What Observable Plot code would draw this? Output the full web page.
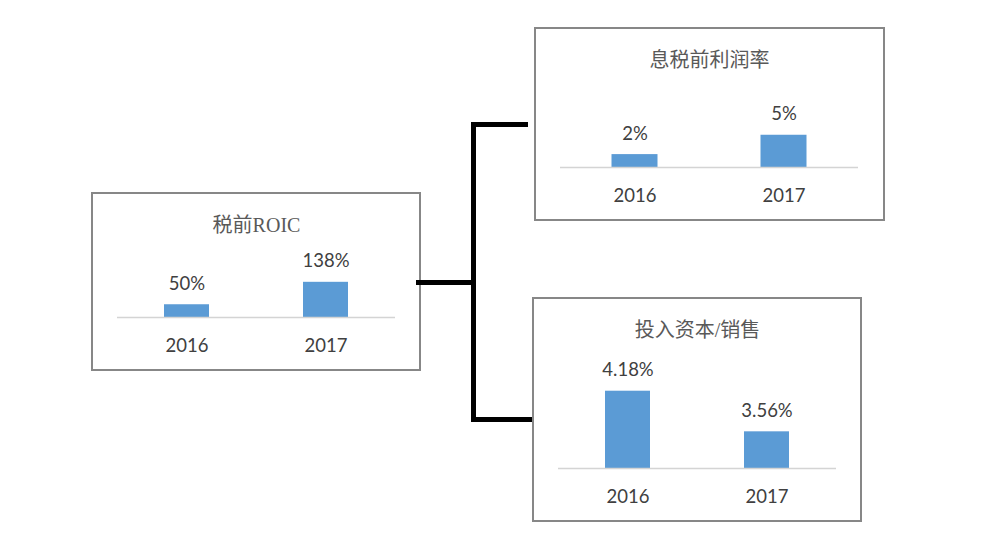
<!DOCTYPE html>
<html><head><meta charset="utf-8">
<script src="https://cdn.jsdelivr.net/npm/d3@7"></script>
<script src="https://cdn.jsdelivr.net/npm/@observablehq/plot@0.6"></script>
<style>
body{margin:0;background:#fff;}
#root{position:relative;width:981px;height:540px;overflow:hidden;background:#fff;}
.panel{position:absolute;}
.panel svg{position:absolute;left:0;top:0;}
.frame{position:absolute;left:0;top:0;right:0;bottom:0;border:2px solid #878787;box-sizing:border-box;pointer-events:none;}
.link{position:absolute;background:#000;}
</style></head><body><div id="root"></div>
<script>
// ---- data ----
const years = ["2016", "2017"];
const roicTitle = "税前ROIC";
const roicValues = [50, 138];
const ebitTitle = "息税前利润率";
const ebitValues = [2, 5];
const capTitle = "投入资本/销售";
const capValues = [4.18, 3.56];

// ---- layout ----
const panels = [
  {title: roicTitle, values: roicValues, left: 91, top: 192, width: 330, height: 179, base: 125, ml: 26, mr: 26, yDomain: [0, 400], mt: 23, inset: 47},
  {title: ebitTitle, values: ebitValues, left: 534, top: 27, width: 351, height: 194, base: 140, ml: 26, mr: 27, yDomain: [0, 20], mt: 11, inset: 51.5},
  {title: capTitle, values: capValues, left: 532, top: 297, width: 330, height: 225, base: 171, ml: 26, mr: 26, yDomain: [3, 5], mt: 40, inset: 47}
];

const root = document.getElementById("root");
const numColor = "#404040";
const barColor = "#5b9bd5";

for (const p of panels) {
  const data = years.map((y, i) => ({year: y, value: p.values[i]}));
  const yMin = p.yDomain[0];
  const chart = Plot.plot({
    width: p.width,
    height: p.height,
    marginLeft: p.ml,
    marginRight: p.mr,
    marginTop: p.mt,
    marginBottom: p.height - p.base,
    style: {fontFamily: "Lato, 'Noto Sans CJK SC', sans-serif", fontSize: "18px", color: numColor, background: "transparent", overflow: "visible"},
    x: {domain: years, padding: 0, label: null},
    y: {domain: p.yDomain, axis: null},
    marks: [
      Plot.barY(data, {x: "year", y1: yMin, y2: "value", fill: barColor, insetLeft: p.inset, insetRight: p.inset}),
      Plot.ruleY([yMin], {stroke: "#d4d4d4", strokeWidth: 1.5}),
      Plot.text(data, {x: "year", y: "value", text: d => d.value + "%", lineAnchor: "bottom", dy: -15, fontSize: 18.5, fill: numColor}),
      Plot.axisX({tickSize: 0, tickPadding: 21, fontSize: 18.5, fill: numColor, label: null}),
      Plot.text([p.title], {frameAnchor: "top", text: d => d, lineAnchor: "middle", dy: 33 - p.mt, fontSize: 20, fill: "#595959", fontFamily: "'Liberation Serif', 'Noto Sans CJK SC', serif"})
    ]
  });
  const wrap = document.createElement("div");
  wrap.className = "panel";
  Object.assign(wrap.style, {left: p.left + "px", top: p.top + "px", width: p.width + "px", height: p.height + "px"});
  wrap.appendChild(chart);
  const frame = document.createElement("div");
  frame.className = "frame";
  wrap.appendChild(frame);
  root.appendChild(wrap);
}

// ---- tree connector (decoration) ----
const links = [
  {left: 416, top: 280, width: 60, height: 5},
  {left: 471, top: 122, width: 5, height: 300},
  {left: 471, top: 122, width: 57, height: 5},
  {left: 471, top: 417, width: 61, height: 5}
];
for (const l of links) {
  const d = document.createElement("div");
  d.className = "link";
  Object.assign(d.style, {left: l.left + "px", top: l.top + "px", width: l.width + "px", height: l.height + "px"});
  root.appendChild(d);
}
</script></body></html>
